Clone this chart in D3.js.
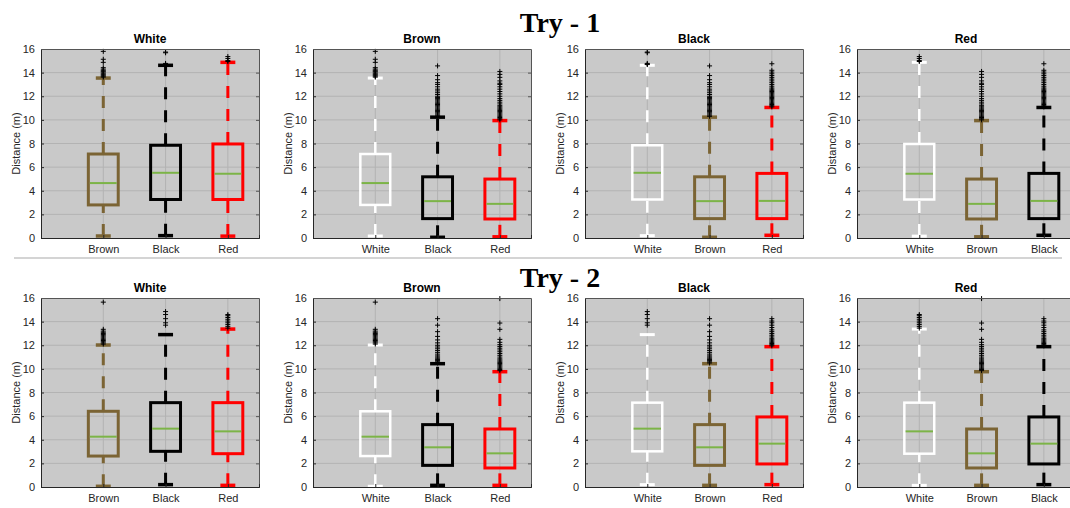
<!DOCTYPE html>
<html>
<head>
<meta charset="utf-8">
<script src="https://cdn.jsdelivr.net/npm/d3@7"></script>
<style>
  html, body { margin: 0; padding: 0; background: #ffffff; }
  svg { display: block; }
</style>
</head>
<body>
<svg id="chart" width="1070" height="508"></svg>
<script>
// Robot colours and the boxplot colour used for each
const categories = ["White", "Brown", "Black", "Red"];
const categoryColors = ["#ffffff", "#7b6434", "#000000", "#ff0000"];

// Robot pairs (order used by every statistic array below)
const pairs = ["White-Brown", "White-Black", "White-Red", "Brown-Black", "Brown-Red", "Black-Red"];

// Y axis ticks (metres)
const yTicks = [0, 2, 4, 6, 8, 10, 12, 14, 16];

// Try 1 : whisker ends, quartiles and medians (m)
const try1Low    = [0.17, 0.20, 0.16, 0.06, 0.10, 0.23];
const try1Q1     = [2.80, 3.26, 3.26, 1.64, 1.61, 1.64];
const try1Median = [4.65, 5.52, 5.44, 3.12, 2.89, 3.14];
const try1Q3     = [7.11, 7.85, 7.96, 5.18, 4.99, 5.47];
const try1High   = [13.54, 14.62, 14.87, 10.23, 9.94, 11.05];
const try1Outliers = [
  [13.62, 13.70, 13.78, 13.86, 13.95, 14.05, 14.12, 14.20, 14.30, 14.42, 14.87, 15.13, 15.80],
  [14.68, 14.72, 14.78, 15.68, 15.74],
  [14.94, 15.02, 15.20, 15.36],
  [10.30, 10.40, 10.50, 10.60, 10.70, 10.80, 10.90, 11.00, 11.10, 11.20, 11.30, 11.40, 11.50,
   11.60, 11.70, 11.80, 11.90, 12.00, 12.15, 12.30, 12.45, 12.60, 12.80, 13.00, 13.15, 13.40,
   13.75, 14.57],
  [10.00, 10.10, 10.20, 10.30, 10.40, 10.50, 10.60, 10.70, 10.80, 10.90, 11.00, 11.10, 11.20,
   11.35, 11.50, 11.65, 11.80, 12.00, 12.20, 12.40, 12.60, 12.80, 13.00, 13.10, 13.30, 13.60,
   13.85, 14.10],
  [11.10, 11.20, 11.30, 11.40, 11.50, 11.60, 11.70, 11.80, 11.90, 12.00, 12.10, 12.20, 12.30,
   12.40, 12.50, 12.60, 12.70, 12.85, 13.00, 13.15, 13.30, 13.45, 13.60, 13.75, 13.90, 14.05,
   14.20, 14.75]
];

// Try 2 : whisker ends, quartiles and medians (m)
const try2Low    = [0.06, 0.20, 0.14, 0.14, 0.14, 0.20];
const try2Q1     = [2.62, 3.02, 2.82, 1.83, 1.61, 1.95];
const try2Median = [4.26, 4.94, 4.71, 3.36, 2.85, 3.67];
const try2Q3     = [6.41, 7.14, 7.14, 5.28, 4.91, 5.93];
const try2High   = [12.02, 12.90, 13.37, 10.44, 9.76, 11.88];
const try2Outliers = [
  [12.10, 12.20, 12.30, 12.40, 12.50, 12.60, 12.70, 12.80, 12.90, 13.00, 13.10, 13.20, 13.35, 15.65],
  [13.70, 13.90, 14.25, 14.60, 14.85],
  [13.45, 13.60, 13.75, 13.90, 14.05, 14.20, 14.35, 14.50, 14.60],
  [10.50, 10.60, 10.70, 10.80, 10.90, 11.00, 11.10, 11.25, 11.40, 11.55, 11.70, 11.85, 12.00,
   12.20, 12.45, 12.75, 13.15, 13.70, 14.25],
  [9.85, 9.95, 10.05, 10.15, 10.25, 10.35, 10.45, 10.55, 10.65, 10.75, 10.85, 11.00, 11.15,
   11.30, 11.45, 11.60, 11.75, 11.90, 12.05, 12.25, 12.50, 13.35, 13.88, 15.95],
  [11.95, 12.05, 12.15, 12.25, 12.35, 12.45, 12.55, 12.70, 12.85, 13.00, 13.15, 13.30, 13.50,
   13.70, 13.90, 14.05, 14.25]
];

const tries = [
  { title: "Try - 1", low: try1Low, q1: try1Q1, med: try1Median, q3: try1Q3, high: try1High, out: try1Outliers },
  { title: "Try - 2", low: try2Low, q1: try2Q1, med: try2Median, q3: try2Q3, high: try2High, out: try2Outliers }
];

const svg = d3.select("#chart");
const FONT = "'Liberation Sans', Arial, Helvetica, sans-serif";
const TEXT = "#262626";

// Layout of the 2 x 4 grid of axes
const panelLeft = [41, 313, 585, 857];
const panelWidth = 218;
const rowTop = [49, 298];
const panelHeight = 189;
const titleBaseline = [32, 287];
const medianColor = "#7cb447";

function pairIndex(a, b) {
  return pairs.findIndex(p => p === a + "-" + b || p === b + "-" + a);
}

// Separator between the two tries
svg.append("line")
  .attr("x1", 14).attr("x2", 1062)
  .attr("y1", 258).attr("y2", 258)
  .attr("stroke", "#d4d4d4").attr("stroke-width", 2);

tries.forEach((tr, row) => {
  svg.append("text")
    .attr("x", 560).attr("y", titleBaseline[row])
    .attr("text-anchor", "middle")
    .attr("font-family", "'Liberation Serif', 'Times New Roman', serif")
    .attr("font-weight", "bold")
    .attr("font-size", 28)
    .attr("fill", "#000")
    .text(tr.title);

  categories.forEach((ref, col) => {
    const others = categories.filter(c => c !== ref);
    const x0 = panelLeft[col], y0 = rowTop[row];
    const g = svg.append("g").attr("transform", `translate(${x0},${y0})`);

    const x = d3.scaleLinear().domain([0, 3.5]).range([0, panelWidth]);
    const y = d3.scaleLinear().domain([0, 16]).range([panelHeight, 0]);

    // background
    g.append("rect")
      .attr("width", panelWidth).attr("height", panelHeight)
      .attr("fill", "#c9c9c9");

    // grid lines
    g.append("g").selectAll("line").data(yTicks.slice(1, -1)).join("line")
      .attr("x1", 0).attr("x2", panelWidth)
      .attr("y1", d => y(d)).attr("y2", d => y(d))
      .attr("stroke", "#b3b3b3").attr("stroke-width", 1);
    g.append("g").selectAll("line").data([1, 2, 3]).join("line")
      .attr("x1", d => x(d)).attr("x2", d => x(d))
      .attr("y1", 0).attr("y2", panelHeight)
      .attr("stroke", "#b3b3b3").attr("stroke-width", 1);

    const bw = x(0.48) - x(0);
    const capW = bw / 2;

    others.forEach((other, i) => {
      const k = pairIndex(ref, other);
      const cx = x(i + 1);
      const color = categoryColors[categories.indexOf(other)];
      const lw = other === "White" ? 2.5 : 3;
      const lo = tr.low[k], q1 = tr.q1[k], md = tr.med[k], q3 = tr.q3[k], hi = tr.high[k];
      const bg = g.append("g");

      // whiskers (dashed), drawn upward
      bg.append("line")
        .attr("x1", cx).attr("x2", cx).attr("y1", y(lo)).attr("y2", y(q1))
        .attr("stroke", color).attr("stroke-width", lw).attr("stroke-dasharray", "12,11");
      bg.append("line")
        .attr("x1", cx).attr("x2", cx).attr("y1", y(q3)).attr("y2", y(hi))
        .attr("stroke", color).attr("stroke-width", lw).attr("stroke-dasharray", "12,11");
      // caps
      [lo, hi].forEach(v => {
        bg.append("line")
          .attr("x1", cx - capW / 2).attr("x2", cx + capW / 2)
          .attr("y1", y(v)).attr("y2", y(v))
          .attr("stroke", color).attr("stroke-width", lw + 0.5);
      });
      // box
      bg.append("rect")
        .attr("x", cx - bw / 2).attr("y", y(q3))
        .attr("width", bw).attr("height", y(q1) - y(q3))
        .attr("fill", "none").attr("stroke", color).attr("stroke-width", lw);
      // median
      bg.append("line")
        .attr("x1", cx - bw / 2 + lw / 2).attr("x2", cx + bw / 2 - lw / 2)
        .attr("y1", y(md)).attr("y2", y(md))
        .attr("stroke", medianColor).attr("stroke-width", 2);
      // outliers
      const s = 2.5;
      bg.append("g").selectAll("path").data(tr.out[k]).join("path")
        .attr("d", d => `M${cx - s},${y(d)}H${cx + s}M${cx},${y(d) - s}V${y(d) + s}`)
        .attr("stroke", "#000").attr("stroke-width", 1).attr("fill", "none");
    });

    // axes box and ticks
    const yAxis = d3.axisLeft(y).tickValues(yTicks).tickSize(-3).tickPadding(6);
    const ya = g.append("g").call(yAxis);
    ya.select(".domain").attr("stroke", TEXT);
    ya.selectAll(".tick line").attr("stroke", TEXT);
    ya.selectAll("text").attr("font-family", FONT).attr("font-size", 11).attr("fill", TEXT);

    const yAxisR = d3.axisRight(y).tickValues(yTicks).tickSize(-3).tickFormat("");
    const yr = g.append("g").attr("transform", `translate(${panelWidth},0)`).call(yAxisR);
    yr.select(".domain").attr("stroke", "#555");
    yr.selectAll(".tick line").attr("stroke", "#555");

    const xAxis = d3.axisBottom(x).tickValues([1, 2, 3]).tickSize(-3).tickPadding(7)
      .tickFormat(d => others[d - 1]);
    const xa = g.append("g").attr("transform", `translate(0,${panelHeight})`).call(xAxis);
    xa.select(".domain").attr("stroke", TEXT);
    xa.selectAll(".tick line").attr("stroke", TEXT);
    xa.selectAll("text").attr("font-family", FONT).attr("font-size", 11).attr("fill", TEXT);

    g.append("line")
      .attr("x1", 0).attr("x2", panelWidth).attr("y1", 0.5).attr("y2", 0.5)
      .attr("stroke", "#555").attr("stroke-width", 1);

    // panel title
    g.append("text")
      .attr("x", panelWidth / 2).attr("y", -6)
      .attr("text-anchor", "middle")
      .attr("font-family", FONT).attr("font-weight", "bold").attr("font-size", 12)
      .attr("fill", "#000")
      .text(ref);

    // y label
    g.append("text")
      .attr("transform", `translate(-21,${panelHeight / 2}) rotate(-90)`)
      .attr("text-anchor", "middle")
      .attr("font-family", FONT).attr("font-size", 11).attr("fill", TEXT)
      .text("Distance (m)");
  });
});
</script>
</body>
</html>
